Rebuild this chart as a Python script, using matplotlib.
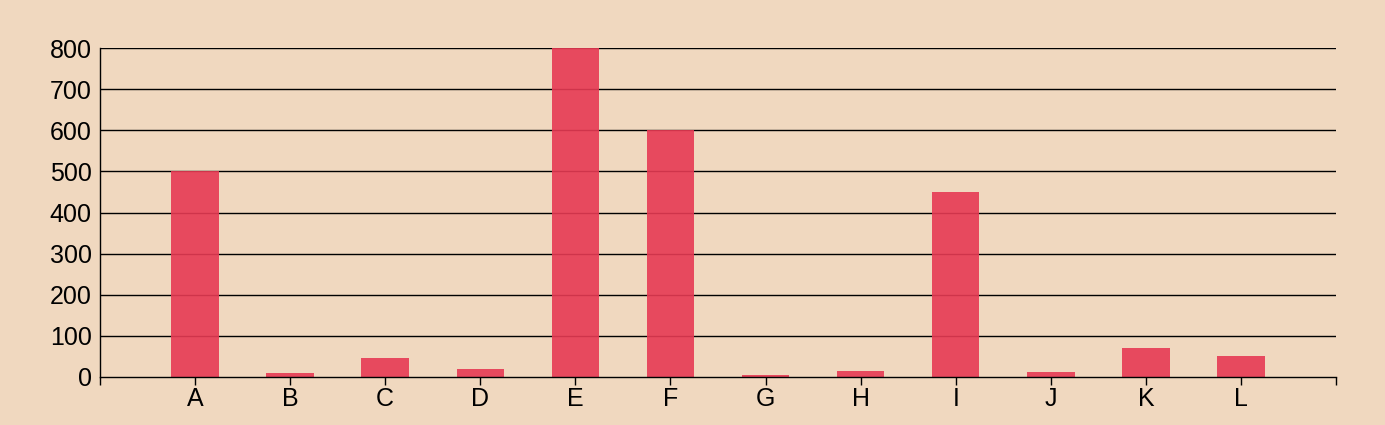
import numpy as np
import matplotlib.pyplot as plt

plt.rcParams['font.family'] = ['Liberation Sans', 'DejaVu Sans']

categories = ['A', 'B', 'C', 'D', 'E', 'F', 'G', 'H', 'I', 'J', 'K', 'L']
values = [500, 10, 45, 20, 800, 600, 5, 15, 450, 12, 70, 50]
y_ticks = [0, 100, 200, 300, 400, 500, 600, 700, 800]

bg = '#F0D8BF'
bar_color = '#E73A54'

fig = plt.figure(figsize=(13.85, 4.25), dpi=100, facecolor=bg)
ax = fig.add_axes([100 / 1385, (425 - 377) / 425, 1236 / 1385, 329 / 425])
ax.set_facecolor(bg)

x = np.arange(1, len(categories) + 1)
# bars slightly see-through, grid lines show faintly behind them
ax.bar(x, values, width=0.5, color=bar_color, alpha=0.9, zorder=3)

for yv in y_ticks[1:]:
    ax.axhline(yv, color='black', linewidth=1, zorder=2)

ax.set_xlim(0, len(categories) + 1)
ax.set_ylim(0, 800)
ax.set_xticks(x)
ax.set_xticklabels(categories)
ax.set_xticks([0, len(categories) + 1], minor=True)
ax.set_yticks(y_ticks)

ax.tick_params(axis='x', which='both', length=6, width=1, pad=1, labelsize=18, colors='black')
ax.tick_params(axis='y', length=0, pad=6, labelsize=18, colors='black')

for side in ['top', 'right']:
    ax.spines[side].set_visible(False)
for side in ['left', 'bottom']:
    ax.spines[side].set_linewidth(1)
    ax.spines[side].set_zorder(4)

fig.savefig('out.png', dpi=100, facecolor=bg)
